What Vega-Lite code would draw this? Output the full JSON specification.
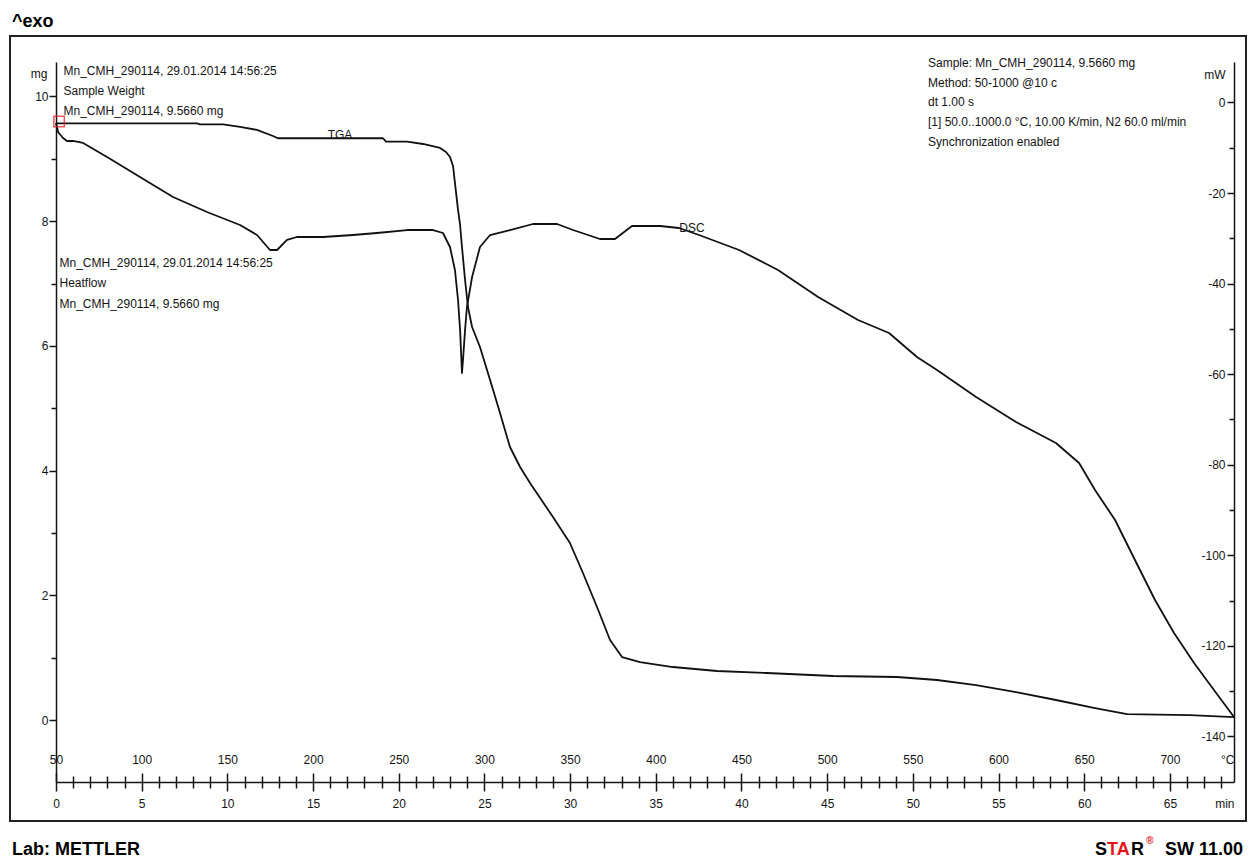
{
  "$schema": "https://vega.github.io/schema/vega-lite/v6.json",
  "width": 1178,
  "height": 720,
  "autosize": {"type": "none"},
  "padding": {"left": 56, "top": 62, "right": 21, "bottom": 79},
  "background": "white",
  "config": {
    "view": {"stroke": null},
    "axis": {
      "labelFont": "Liberation Sans", "labelFontSize": 12, "labelColor": "#141414",
      "titleFont": "Liberation Sans", "titleFontSize": 12, "titleFontWeight": "normal", "titleColor": "#141414",
      "domainColor": "#141414", "tickColor": "#141414", "domainWidth": 1.5, "tickWidth": 1.5,
      "grid": false, "labelFlush": false, "labelOverlap": false, "labelBound": false
    },
    "text": {"font": "Liberation Sans", "fontSize": 12, "color": "#141414"}
  },
  "datasets": {
    "tga": [{"t":0,"mg":9.57},{"t":8.23,"mg":9.57},{"t":8.40,"mg":9.554},{"t":9.75,"mg":9.554},{"t":10.74,"mg":9.511},{"t":11.73,"mg":9.463},{"t":12.66,"mg":9.366},{"t":12.95,"mg":9.33},{"t":19.08,"mg":9.33},{"t":19.26,"mg":9.275},{"t":20.48,"mg":9.275},{"t":21.42,"mg":9.238},{"t":22.41,"mg":9.174},{"t":22.76,"mg":9.11},{"t":22.99,"mg":9.03},{"t":23.17,"mg":8.885},{"t":23.28,"mg":8.613},{"t":23.46,"mg":8.18},{"t":23.58,"mg":7.939},{"t":23.69,"mg":7.586},{"t":23.87,"mg":7.057},{"t":24.04,"mg":6.624},{"t":24.28,"mg":6.303},{"t":24.74,"mg":5.982},{"t":25.33,"mg":5.453},{"t":25.91,"mg":4.924},{"t":26.49,"mg":4.379},{"t":27.08,"mg":4.058},{"t":27.66,"mg":3.801},{"t":29.0,"mg":3.256},{"t":29.99,"mg":2.839},{"t":30.75,"mg":2.358},{"t":31.57,"mg":1.813},{"t":32.33,"mg":1.283},{"t":33.03,"mg":1.01},{"t":34.08,"mg":0.93},{"t":36.0,"mg":0.85},{"t":38.57,"mg":0.786},{"t":41.49,"mg":0.754},{"t":45.34,"mg":0.706},{"t":49.08,"mg":0.69},{"t":51.41,"mg":0.642},{"t":53.69,"mg":0.561},{"t":56.02,"mg":0.449},{"t":58.35,"mg":0.321},{"t":60.63,"mg":0.192},{"t":62.5,"mg":0.096},{"t":66.17,"mg":0.08},{"t":68.74,"mg":0.048}],
    "dsc": [{"t":0,"mW":-4.53},{"t":0.12,"mW":-6.51},{"t":0.41,"mW":-7.84},{"t":0.64,"mW":-8.5},{"t":0.99,"mW":-8.5},{"t":1.58,"mW":-8.94},{"t":2.98,"mW":-12.03},{"t":4.9,"mW":-16.45},{"t":6.83,"mW":-20.87},{"t":8.81,"mW":-24.18},{"t":10.74,"mW":-27.05},{"t":11.73,"mW":-29.26},{"t":12.49,"mW":-32.57},{"t":12.9,"mW":-32.57},{"t":13.48,"mW":-30.36},{"t":14.06,"mW":-29.7},{"t":15.58,"mW":-29.7},{"t":17.33,"mW":-29.26},{"t":18.73,"mW":-28.82},{"t":20.48,"mW":-28.16},{"t":22.0,"mW":-28.16},{"t":22.58,"mW":-28.82},{"t":22.99,"mW":-31.91},{"t":23.28,"mW":-36.99},{"t":23.46,"mW":-43.61},{"t":23.58,"mW":-50.24},{"t":23.69,"mW":-59.73},{"t":23.75,"mW":-56.86},{"t":23.87,"mW":-50.24},{"t":23.98,"mW":-45.16},{"t":24.28,"mW":-38.53},{"t":24.74,"mW":-31.91},{"t":25.33,"mW":-29.26},{"t":26.49,"mW":-28.16},{"t":27.83,"mW":-26.83},{"t":29.24,"mW":-26.83},{"t":30.17,"mW":-28.16},{"t":31.74,"mW":-30.14},{"t":32.62,"mW":-30.14},{"t":33.61,"mW":-27.27},{"t":35.25,"mW":-27.27},{"t":36.35,"mW":-27.71},{"t":37.52,"mW":-29.26},{"t":39.86,"mW":-32.57},{"t":42.13,"mW":-36.99},{"t":44.47,"mW":-42.95},{"t":46.8,"mW":-48.03},{"t":48.61,"mW":-50.9},{"t":50.24,"mW":-56.2},{"t":51.41,"mW":-59.07},{"t":53.69,"mW":-65.03},{"t":56.02,"mW":-70.55},{"t":58.35,"mW":-75.19},{"t":59.7,"mW":-79.6},{"t":60.63,"mW":-85.57},{"t":61.8,"mW":-92.19},{"t":62.96,"mW":-101.03},{"t":64.13,"mW":-109.86},{"t":65.24,"mW":-117.14},{"t":66.41,"mW":-123.77},{"t":67.57,"mW":-129.74},{"t":68.74,"mW":-135.7}]
  },
  "layer": [
    {
      "data": {"values": [{}]},
      "mark": {"type": "rect", "filled": false, "stroke": "#222222", "strokeWidth": 2},
      "encoding": {
        "x": {"datum": -2.684, "type": "quantitative", "scale": {"domain": [0, 68.74], "nice": false, "zero": false}, "axis": null},
        "x2": {"datum": 69.44},
        "y": {"datum": 10.97, "type": "quantitative", "scale": {"domain": [-0.994, 10.553], "nice": false, "zero": false}, "axis": null},
        "y2": {"datum": -1.62}
      }
    },
    {
      "data": {"name": "tga"},
      "mark": {"type": "line", "color": "#111111", "strokeWidth": 1.8, "strokeJoin": "round"},
      "encoding": {
        "x": {"field": "t", "type": "quantitative", "scale": {"domain": [0, 68.74], "nice": false, "zero": false},
          "axis": {"orient": "bottom", "values": [0,5,10,15,20,25,30,35,40,45,50,55,60,65,68.74], "tickSize": 9, "labelPadding": 7, "title": null,
            "labelExpr": "datum.value > 66 ? 'min' : datum.label",
            "labelAlign": {"condition": {"test": "datum.value > 66", "value": "right"}, "value": "center"},
            "tickOpacity": {"condition": {"test": "datum.value > 66", "value": 0}, "value": 1}}},
        "y": {"field": "mg", "type": "quantitative", "scale": {"domain": [-0.994, 10.553], "nice": false, "zero": false},
          "axis": {"orient": "left", "values": [0,2,4,6,8,10], "tickSize": 7, "labelPadding": 1, "title": "mg", "titleAngle": 0, "titleAlign": "right", "titleBaseline": "middle", "titleX": -9, "titleY": 11}}
      }
    },
    {
      "data": {"name": "dsc"},
      "mark": {"type": "line", "color": "#111111", "strokeWidth": 1.8, "strokeJoin": "round"},
      "encoding": {
        "x": {"field": "t", "type": "quantitative", "scale": {"domain": [0, 68.74], "nice": false, "zero": false},
          "axis": {"orient": "top", "offset": -720, "domain": false, "values": [0,5,10,15,20,25,30,35,40,45,50,55,60,65,68.74], "tickSize": 9, "labelPadding": 7, "title": null,
            "labelExpr": "datum.value > 66 ? '°C' : format(50 + 10 * datum.value, 'd')",
            "labelAlign": {"condition": {"test": "datum.value > 66", "value": "right"}, "value": "center"},
            "tickOpacity": {"condition": {"test": "datum.value > 66", "value": 0}, "value": 1}}},
        "y": {"field": "mW", "type": "quantitative", "scale": {"domain": [-150.05, 8.943], "nice": false, "zero": false},
          "axis": {"orient": "left", "offset": -1178, "values": [-140,-120,-100,-80,-60,-40,-20,0], "tickSize": 7, "labelPadding": 2, "labelExpr": "'' + datum.value", "title": "mW", "titleAngle": 0, "titleAlign": "right", "titleBaseline": "middle", "titleX": -9, "titleY": 12}}
      }
    },
    {
      "data": {"values": [{}]},
      "mark": {"type": "text", "text": "TGA", "align": "center", "baseline": "middle"},
      "encoding": {
        "x": {"datum": 16.57, "type": "quantitative", "scale": {"domain": [0, 68.74], "nice": false, "zero": false},
          "axis": {"orient": "bottom", "values": [1,2,3,4,6,7,8,9,11,12,13,14,16,17,18,19,21,22,23,24,26,27,28,29,31,32,33,34,36,37,38,39,41,42,43,44,46,47,48,49,51,52,53,54,56,57,58,59,61,62,63,64,66,67,68], "tickSize": 6, "labels": false, "domain": false, "title": null}},
        "y": {"datum": 9.387, "type": "quantitative", "scale": {"domain": [-0.994, 10.553], "nice": false, "zero": false},
          "axis": {"orient": "left", "values": [1,3,5,7,9], "tickSize": 5, "labels": false, "domain": false, "title": null}}
      }
    },
    {
      "data": {"values": [{}]},
      "mark": {"type": "text", "text": "DSC", "align": "center", "baseline": "middle"},
      "encoding": {
        "x": {"datum": 37.11, "type": "quantitative", "scale": {"domain": [0, 68.74], "nice": false, "zero": false},
          "axis": {"orient": "top", "offset": -720, "values": [1,2,3,4,6,7,8,9,11,12,13,14,16,17,18,19,21,22,23,24,26,27,28,29,31,32,33,34,36,37,38,39,41,42,43,44,46,47,48,49,51,52,53,54,56,57,58,59,61,62,63,64,66,67,68], "tickSize": 6, "labels": false, "domain": false, "title": null}},
        "y": {"datum": 7.896, "type": "quantitative", "scale": {"domain": [-0.994, 10.553], "nice": false, "zero": false}, "axis": null}
      }
    },
    {
      "data": {"values": [{}]},
      "mark": {"type": "point", "shape": "square", "filled": false, "color": "#e5141b", "size": 110, "strokeWidth": 1.5},
      "encoding": {
        "x": {"datum": 0.18, "type": "quantitative", "scale": {"domain": [0, 68.74], "nice": false, "zero": false}, "axis": null},
        "y": {"datum": -4.2, "type": "quantitative", "scale": {"domain": [-150.05, 8.943], "nice": false, "zero": false},
          "axis": {"orient": "left", "offset": -1178, "values": [-130,-110,-90,-70,-50,-30,-10], "tickSize": 5, "labels": false, "domain": false, "title": null}}
      }
    },
    {
      "data": {"values": [{}]},
      "mark": {"type": "text", "align": "left", "baseline": "top", "lineHeight": 19.8, "text": ["Mn_CMH_290114, 29.01.2014 14:56:25", "Sample Weight", "Mn_CMH_290114, 9.5660 mg"]},
      "encoding": {
        "x": {"datum": 0.438, "type": "quantitative", "scale": {"domain": [0, 68.74], "nice": false, "zero": false}, "axis": null},
        "y": {"datum": 10.489, "type": "quantitative", "scale": {"domain": [-0.994, 10.553], "nice": false, "zero": false}, "axis": null}
      }
    },
    {
      "data": {"values": [{}]},
      "mark": {"type": "text", "align": "left", "baseline": "top", "lineHeight": 20.6, "text": ["Mn_CMH_290114, 29.01.2014 14:56:25", "Heatflow", "Mn_CMH_290114, 9.5660 mg"]},
      "encoding": {
        "x": {"datum": 0.204, "type": "quantitative", "scale": {"domain": [0, 68.74], "nice": false, "zero": false}, "axis": null},
        "y": {"datum": 7.413, "type": "quantitative", "scale": {"domain": [-0.994, 10.553], "nice": false, "zero": false}, "axis": null}
      }
    },
    {
      "data": {"values": [{}]},
      "mark": {"type": "text", "align": "left", "baseline": "top", "lineHeight": 19.6, "text": ["Sample: Mn_CMH_290114, 9.5660 mg", "Method: 50-1000 @10 c", "dt 1.00 s", "[1] 50.0..1000.0 °C, 10.00 K/min, N2 60.0 ml/min", "Synchronization enabled"]},
      "encoding": {
        "x": {"datum": 50.884, "type": "quantitative", "scale": {"domain": [0, 68.74], "nice": false, "zero": false}, "axis": null},
        "y": {"datum": 10.613, "type": "quantitative", "scale": {"domain": [-0.994, 10.553], "nice": false, "zero": false}, "axis": null}
      }
    },
    {
      "data": {"values": [{}]},
      "mark": {"type": "text", "text": "^exo", "align": "left", "baseline": "alphabetic", "fontSize": 18, "fontWeight": "bold", "color": "#000000"},
      "encoding": {
        "x": {"datum": -2.568, "type": "quantitative", "scale": {"domain": [0, 68.74], "nice": false, "zero": false}, "axis": null},
        "y": {"datum": 11.115, "type": "quantitative", "scale": {"domain": [-0.994, 10.553], "nice": false, "zero": false}, "axis": null}
      }
    },
    {
      "data": {"values": [{}]},
      "mark": {"type": "text", "text": "Lab: METTLER", "align": "left", "baseline": "alphabetic", "fontSize": 18, "fontWeight": "bold", "color": "#000000"},
      "encoding": {
        "x": {"datum": -2.568, "type": "quantitative", "scale": {"domain": [0, 68.74], "nice": false, "zero": false}, "axis": null},
        "y": {"datum": -2.165, "type": "quantitative", "scale": {"domain": [-0.994, 10.553], "nice": false, "zero": false}, "axis": null}
      }
    },
    {
      "data": {"values": [{}]},
      "mark": {"type": "text", "text": "S", "align": "left", "baseline": "alphabetic", "fontSize": 18, "fontWeight": "bold", "color": "#000000"},
      "encoding": {
        "x": {"datum": 60.629, "type": "quantitative", "scale": {"domain": [0, 68.74], "nice": false, "zero": false}, "axis": null},
        "y": {"datum": -2.165, "type": "quantitative", "scale": {"domain": [-0.994, 10.553], "nice": false, "zero": false}, "axis": null}
      }
    },
    {
      "data": {"values": [{}]},
      "mark": {"type": "text", "text": "TA", "align": "left", "baseline": "alphabetic", "fontSize": 18, "fontWeight": "bold", "color": "#e5141b"},
      "encoding": {
        "x": {"datum": 61.329, "type": "quantitative", "scale": {"domain": [0, 68.74], "nice": false, "zero": false}, "axis": null},
        "y": {"datum": -2.165, "type": "quantitative", "scale": {"domain": [-0.994, 10.553], "nice": false, "zero": false}, "axis": null}
      }
    },
    {
      "data": {"values": [{}]},
      "mark": {"type": "text", "text": "R", "align": "left", "baseline": "alphabetic", "fontSize": 18, "fontWeight": "bold", "color": "#000000"},
      "encoding": {
        "x": {"datum": 62.73, "type": "quantitative", "scale": {"domain": [0, 68.74], "nice": false, "zero": false}, "axis": null},
        "y": {"datum": -2.165, "type": "quantitative", "scale": {"domain": [-0.994, 10.553], "nice": false, "zero": false}, "axis": null}
      }
    },
    {
      "data": {"values": [{}]},
      "mark": {"type": "text", "text": "®", "align": "left", "baseline": "alphabetic", "fontSize": 10, "fontWeight": "bold", "color": "#e5141b"},
      "encoding": {
        "x": {"datum": 63.62, "type": "quantitative", "scale": {"domain": [0, 68.74], "nice": false, "zero": false}, "axis": null},
        "y": {"datum": -1.989, "type": "quantitative", "scale": {"domain": [-0.994, 10.553], "nice": false, "zero": false}, "axis": null}
      }
    },
    {
      "data": {"values": [{}]},
      "mark": {"type": "text", "text": "SW 11.00", "align": "right", "baseline": "alphabetic", "fontSize": 18, "fontWeight": "bold", "color": "#000000"},
      "encoding": {
        "x": {"datum": 69.265, "type": "quantitative", "scale": {"domain": [0, 68.74], "nice": false, "zero": false}, "axis": null},
        "y": {"datum": -2.165, "type": "quantitative", "scale": {"domain": [-0.994, 10.553], "nice": false, "zero": false}, "axis": null}
      }
    }
  ],
  "resolve": {"scale": {"y": "independent"}, "axis": {"x": "independent", "y": "independent"}}
}
